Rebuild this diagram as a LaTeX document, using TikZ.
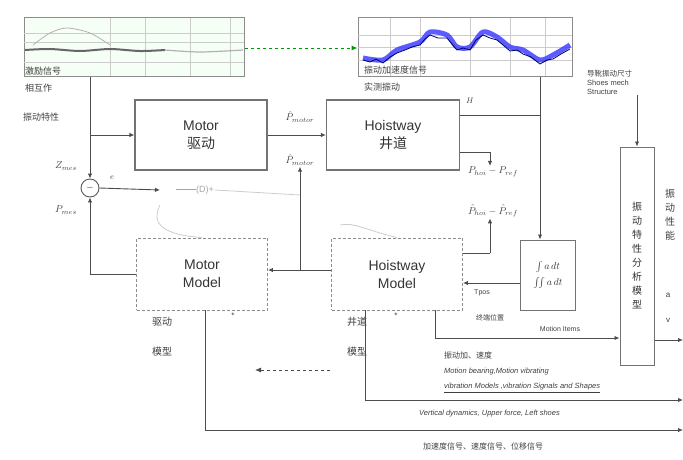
\documentclass[tikz,border=0pt]{standalone}
\usepackage{fontspec}
\setmainfont{Liberation Sans}
\newfontfamily\cjk{Noto Sans CJK SC}
\usetikzlibrary{arrows.meta,calc}
\begin{document}
\begin{tikzpicture}[x=1pt,y=-1pt,
  blk/.style={draw=black!55, line width=1.3pt, align=center, inner sep=0pt,
     font=\fontsize{14}{18}\selectfont, text=black!80},
  mdl/.style={draw=black!45, line width=0.9pt, densely dashed, align=center, inner sep=0pt,
     font=\fontsize{14}{18}\selectfont, text=black!80},
  plotbox/.style={draw=black!45, line width=1pt, inner sep=0pt},
  conn/.style={draw=black!70, line width=0.9pt, -{Latex[length=5pt,width=4.5pt]}},
  wire/.style={draw=black!70, line width=0.9pt},
  lbl/.style={font=\fontsize{8}{9}\selectfont, text=black!75, inner sep=1pt},
  plbl/.style={font=\fontsize{10}{11}\selectfont, text=black!75, inner sep=1pt},
  clbl/.style={font=\cjk\fontsize{9}{11}\selectfont, text=black!75, inner sep=1pt, align=left},
  grid/.style={draw=black!20, line width=0.5pt}
]
\useasboundingbox (0,0) rectangle (683,459);

% ---------- top plots ----------
\node[plotbox, fill=green!4, minimum width=220pt, minimum height=59pt] (p1) at (134,47) {};
\foreach \gx in {110,145,190,230} \draw[grid] (\gx,18) -- (\gx,76);
\foreach \gy in {33,42,62} \draw[grid] (24,\gy) -- (244,\gy);
\draw[black!30, line width=0.8pt] plot[smooth] coordinates {(33,45) (50,33) (67,28) (90,33) (110,45)};
\draw[black!60, line width=2pt] plot[smooth] coordinates {(25,50) (50,49) (80,51) (110,49) (140,51) (165,50)};
\draw[black!30, line width=1.2pt] plot[smooth] coordinates {(165,50) (200,52) (243,50)};

\node[plotbox, minimum width=214pt, minimum height=59pt] (p2) at (465,47) {};
\foreach \gx in {390,420,470,510,545} \draw[grid] (\gx,18) -- (\gx,76);
\foreach \gy in {35,47,60} \draw[grid] (358,\gy) -- (572,\gy);
\draw[blue!75, line width=5pt, opacity=0.85] plot[smooth] coordinates {(363,58) (383,60) (397,50) (420,42) (430,32) (447,35) (457,47) (470,47) (483,32) (497,37) (510,47) (523,50) (540,60) (553,55) (570,45)};
\draw[blue!40!black, line width=0.8pt] plot[sharp plot] coordinates {(363,60) (370,62) (376,59) (383,63) (390,57) (397,53) (405,50) (412,47) (420,45) (425,39) (430,35) (438,38) (447,38) (452,44) (457,50) (463,48) (470,50) (476,40) (483,35) (490,38) (497,40) (503,45) (510,51) (517,50) (523,54) (531,57) (540,64) (547,60) (553,59) (561,54) (570,49)};

\draw[green!60!black, line width=1pt, dashed, -{Latex[length=6pt,width=5pt]}] (p1.east |- 0,48) coordinate (ga) -- (p2.west |- 0,48) coordinate (gb);

% texts near plots
\node[clbl, anchor=west] (t1) at (24,71) {激励信号};
\node[clbl, anchor=west] (t2) at (24,88) {相互作};
\node[clbl, anchor=west] (t3) at (22,117) {振动特性};
\node[clbl, anchor=west] (t4) at (363,70) {振动加速度信号};
\node[clbl, anchor=west] (t5) at (363,87) {实测振动};
\node[clbl, anchor=west, align=left, font=\fontsize{7.5}{9}\selectfont] (shoes) at (586,82) {{\cjk 导靴振动尺寸}\\Shoes mech\\Structure};

% ---------- main blocks ----------
\node[blk, minimum width=132pt, minimum height=70pt] (motor) at (201,135) {Motor\\{\cjk 驱动}};
\node[blk, minimum width=133pt, minimum height=70pt] (hoist) at (393,135) {Hoistway\\{\cjk 井道}};
\node[mdl, minimum width=131pt, minimum height=72pt] (mmodel) at (202,274) {Motor\\Model};
\node[mdl, minimum width=131pt, minimum height=72pt] (hmodel) at (397,274) {Hoistway\\Model};
\node[blk, line width=1pt, minimum width=55pt, minimum height=70pt, font=\fontsize{10}{16}\selectfont] (integ) at (548,275) {$\int a\,dt$\\$\int\!\!\int a\,dt$};
\node[blk, line width=1pt, minimum width=34pt, minimum height=218pt, font=\cjk\fontsize{10}{14}\selectfont] (col) at (637,256) {振\\动\\特\\性\\分\\析\\模\\型};
\node[clbl, align=center, font=\cjk\fontsize{10}{14}\selectfont] (perf) at (670,215) {振\\动\\性\\能};
\node[lbl] (ra) at (668,295) {a};
\node[lbl] (rv) at (668,320) {v};

% summing junction
\node[draw=black!65, circle, minimum size=18pt, inner sep=0pt, line width=0.9pt, font=\fontsize{9}{9}\selectfont] (sum) at (90,188) {$-$};
\node[plbl] (zmes) at (66,166) {$Z_{mes}$};
\node[plbl] (pmes) at (66,210) {$P_{mes}$};
\node[lbl] (elbl) at (112,178) {$e$};
\coordinate (dstart) at (160,190);
\node[lbl, text=black!35, font=\fontsize{9}{10}\selectfont] (dblk) at (195,190) {\rule[2.5pt]{20pt}{0.6pt}(D)+};

% labels
\node[plbl] (pm1) at (300,117) {$\hat{P}_{motor}$};
\node[plbl] (pm2) at (300,160) {$\hat{P}_{motor}$};
\node[lbl] (hl) at (470,101) {$H$};
\node[plbl] (ph1) at (493,172) {$P_{hoi}-P_{ref}$};
\node[plbl] (ph2) at (493,211) {$\hat{P}_{hoi}-\hat{P}_{ref}$};
\node[lbl, font=\fontsize{7}{8}\selectfont] (tpos) at (482,293) {Tpos};
\node[clbl, font=\cjk\fontsize{7}{8}\selectfont] (tst) at (490,318) {终端位置};
\node[lbl, font=\fontsize{7}{8}\selectfont] (mi) at (560,329) {Motion Items};

\node[clbl, font=\cjk\fontsize{10}{12}\selectfont] (md1) at (162,322) {驱动};
\node[clbl, font=\cjk\fontsize{10}{12}\selectfont] (md2) at (162,352) {模型};
\node[clbl, font=\cjk\fontsize{10}{12}\selectfont] (hd1) at (357,322) {井道};
\node[clbl, font=\cjk\fontsize{10}{12}\selectfont] (hd2) at (357,352) {模型};
\node[lbl] (st1) at (233,316) {*};
\node[lbl] (st2) at (396,316) {*};

\node[clbl, anchor=west, font=\cjk\fontsize{8}{9}\selectfont] (b1) at (443,355) {振动加、速度};
\node[lbl, anchor=west, font=\itshape\fontsize{7.5}{9}\selectfont] (b2) at (443,372) {Motion bearing,Motion vibrating};
\node[lbl, anchor=west, font=\itshape\fontsize{7.5}{9}\selectfont] (b3) at (443,388) {\underline{vibration Models ,vibration Signals and Shapes}};
\node[lbl, anchor=west, font=\itshape\fontsize{7.5}{9}\selectfont] (b4) at (418,414) {Vertical dynamics, Upper force, Left shoes};
\node[clbl, anchor=west, font=\cjk\fontsize{8}{9}\selectfont] (b5) at (422,446) {加速度信号、速度信号、位移信号};

% ---------- connectors ----------
\coordinate (lft) at (p1.south -| sum);
\draw[conn] (lft) -- (sum.north);
\draw[conn] (lft |- motor.west) -- (motor.west);
\draw[conn] (mmodel.west) -| (sum.south);
\draw[conn] (sum.east) -- (dstart);
\draw[conn] (motor.east) -- (hoist.west);

\coordinate (vr) at (540,77);
\draw[conn] (vr) -- (integ.north -| vr);
\draw[wire] (hoist.east |- 0,115) -- (vr |- 0,115);
\draw[wire] (hoist.east |- 0,152) -- (490,152);
\draw[conn] (490,152) -- (ph1.north -| 490,0);
\draw[wire] (hmodel.east |- 0,253) -- (490,253);
\draw[conn] (490,253) -- (ph2.south -| 490,0);
\draw[conn] (integ.west |- 0,283) -- (hmodel.east |- 0,283);
\draw[conn] (hmodel.west |- 0,270) -- (mmodel.east |- 0,270);
\draw[conn] (300,270) -- (pm2.south);

\draw[conn] (shoes.south -| col) -- (col.north);
\draw[conn] (hmodel.south -| 435,0) |- (col.west |- 0,338);
\draw[conn] (col.east |- 0,340) -- (683,340) coordinate (o1);
\draw[conn] (hmodel.south -| 365,0) |- (683,400) coordinate (o2);
\draw[conn] (mmodel.south -| 205,0) |- (683,430) coordinate (o3);

\draw[draw=black!70, line width=0.9pt, dashed, -{Latex[length=6pt,width=5pt]}] (330,370) coordinate (da) -- (255,370) coordinate (db);

% faint loop
\draw[black!20, line width=0.8pt] (160,205) .. controls (150,225) and (165,235) .. (mmodel.north);
\draw[black!20, line width=0.8pt] (dblk.east) -- (300,195);
\draw[black!20, line width=0.8pt] (340,225) .. controls (355,222) and (365,230) .. (hmodel.north);
\end{tikzpicture}
\end{document}
